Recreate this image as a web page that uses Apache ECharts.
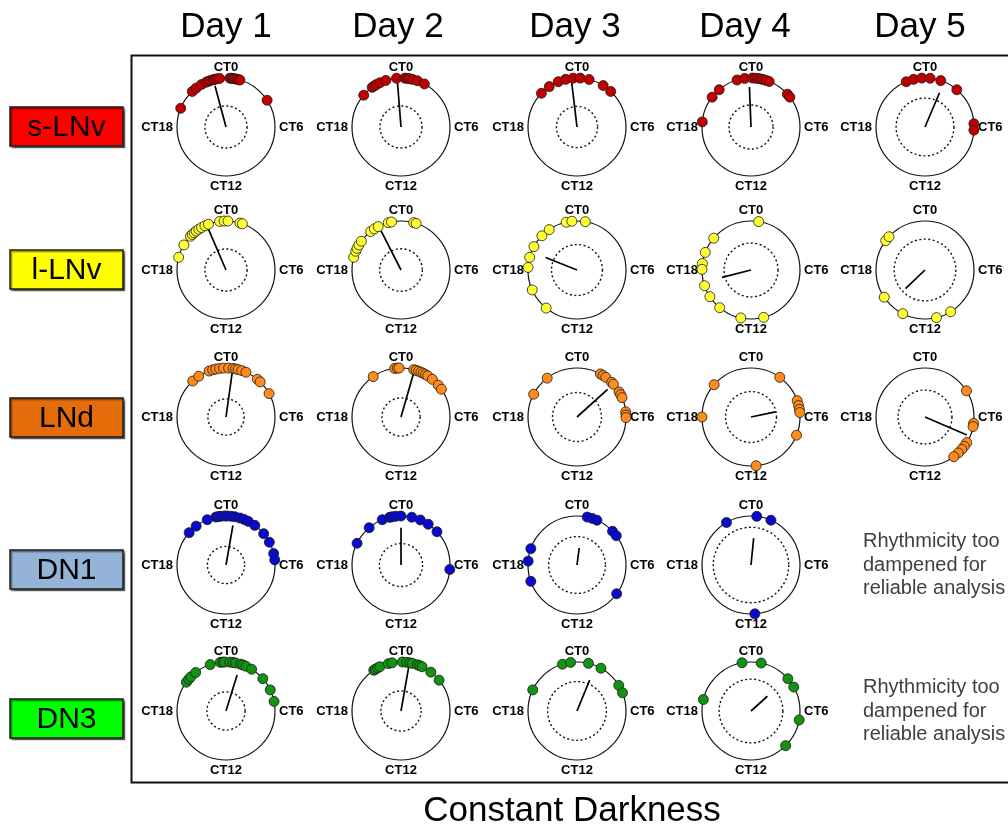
<!DOCTYPE html>
<html>
<head>
<meta charset="utf-8">
<script src="https://cdn.jsdelivr.net/npm/echarts@6/dist/echarts.min.js"></script>
<style>
html,body{margin:0;padding:0;background:#fff;}
#main{width:1008px;height:826px;}
</style>
</head>
<body>
<div id="main"></div>
<script>
const days = ['Day 1', 'Day 2', 'Day 3', 'Day 4', 'Day 5'];
const cellTypes = ['s-LNv', 'l-LNv', 'LNd', 'DN1', 'DN3'];
const noRhythmText = 'Rhythmicity too\ndampened for\nreliable analysis';

// peak phases (CT hours) of single flies, one list per day
const sLNvPhases = [
    [19.5, 21.1, 21.5, 22.0, 22.4, 22.6, 22.8, 23.0, 23.1, 23.3, 23.5, 0.3, 0.45, 0.55, 0.7, 0.85, 1.0, 1.1, 3.8],
    [20.7, 21.6, 21.8, 22.0, 22.3, 22.8, 23.65, 0.3, 0.5, 0.65, 0.9, 1.3, 1.9],
    [20.9, 21.7, 22.5, 23.1, 23.7, 0.25, 0.95, 2.15, 2.9],
    [18.4, 20.5, 21.3, 22.9, 23.5, 0.1, 0.35, 0.55, 0.75, 0.95, 1.2, 1.45, 3.2, 3.5],
    [22.5, 23.1, 23.75, 0.4, 1.25, 2.7, 5.75, 6.25]
];
const sLNvMean = [23.0, 23.7, 23.55, 23.85, 1.53];
const sLNvLength = [0.87, 0.95, 0.96, 0.82, 0.76];
const sLNvSignif = [0.43, 0.43, 0.42, 0.45, 0.59];

const lLNvPhases = [
    [19.0, 20.05, 20.9, 21.1, 21.3, 21.5, 21.75, 22.0, 22.3, 22.6, 23.5, 23.85, 0.15, 1.1, 1.3],
    [19.0, 19.5, 19.75, 20.05, 20.4, 21.45, 21.8, 22.15, 23.0, 23.25, 1.0, 1.2],
    [14.6, 16.4, 18.2, 19.0, 19.9, 20.95, 21.7, 23.15, 23.6, 0.65],
    [0.6, 20.7, 19.4, 18.5, 18.05, 16.75, 15.8, 14.65, 12.8, 11.0],
    [20.45, 20.85, 15.75, 13.8, 11.1, 9.9]
];
const lLNvMean = [22.45, 22.2, 19.45, 17.05, 15.1];
const lLNvLength = [0.93, 0.93, 0.69, 0.61, 0.55];
const lLNvSignif = [0.43, 0.435, 0.52, 0.55, 0.63];

const LNdPhases = [
    [21.15, 21.75, 22.65, 22.95, 23.2, 23.5, 23.8, 0.2, 0.55, 0.75, 0.95, 1.25, 1.6, 2.65, 2.95, 4.1],
    [21.7, 23.5, 23.7, 23.85, 1.0, 1.2, 1.4, 1.6, 1.8, 2.0, 2.2, 2.65, 3.3, 3.7],
    [19.85, 21.5, 1.9, 2.15, 2.4, 3.0, 3.2, 3.95, 4.2, 4.45, 5.6, 5.85, 6.05],
    [18.0, 20.75, 11.6, 2.4, 4.7, 5.1, 5.4, 5.65, 7.45],
    [3.85, 6.5, 6.75, 8.1, 8.45, 8.75, 9.15, 9.6]
];
const LNdMean = [0.53, 1.07, 3.2, 5.2, 7.55];
const LNdLength = [0.96, 0.97, 0.84, 0.51, 0.93];
const LNdSignif = [0.37, 0.39, 0.5, 0.52, 0.55];

const DN1Phases = [
    [20.75, 21.5, 22.5, 23.2, 23.4, 23.6, 23.9, 0.1, 0.4, 0.7, 1.1, 1.45, 1.8, 2.4, 3.35, 4.15, 5.1, 5.6],
    [19.75, 21.3, 22.5, 23.1, 23.3, 23.6, 0.0, 0.85, 1.55, 2.25, 3.15, 6.35],
    [19.3, 18.3, 16.7, 0.8, 1.2, 1.6, 3.1, 3.55, 8.4],
    [22.0, 0.45, 1.6, 11.7]
];
const DN1Mean = [0.66, 0.0, 0.5, 0.38];
const DN1Length = [0.82, 0.76, 0.35, 0.55];
const DN1Signif = [0.38, 0.44, 0.58, 0.77];

const DN3Phases = [
    [20.4, 20.7, 20.95, 21.45, 22.75, 23.55, 23.75, 23.9, 0.3, 0.55, 0.75, 1.15, 1.35, 1.6, 2.1, 3.25, 4.3, 5.25],
    [21.75, 21.9, 22.1, 22.3, 23.0, 23.3, 0.1, 0.45, 0.7, 0.9, 1.3, 1.5, 1.7, 2.5, 3.4],
    [19.7, 22.85, 23.5, 0.9, 1.95, 3.9, 4.55],
    [18.9, 23.3, 0.8, 3.25, 4.05, 6.7, 9.0]
];
const DN3Mean = [1.14, 0.66, 1.49, 3.2];
const DN3Length = [0.77, 0.89, 0.68, 0.45];
const DN3Signif = [0.39, 0.41, 0.6, 0.65];

const rows = [
    {phases: sLNvPhases, mean: sLNvMean, len: sLNvLength, sig: sLNvSignif, dot: '#c00000', box: '#ff0000'},
    {phases: lLNvPhases, mean: lLNvMean, len: lLNvLength, sig: lLNvSignif, dot: '#ffff33', box: '#ffff00'},
    {phases: LNdPhases, mean: LNdMean, len: LNdLength, sig: LNdSignif, dot: '#ff8c1a', box: '#e46c0a'},
    {phases: DN1Phases, mean: DN1Mean, len: DN1Length, sig: DN1Signif, dot: '#0a0acc', box: '#95b3d7'},
    {phases: DN3Phases, mean: DN3Mean, len: DN3Length, sig: DN3Signif, dot: '#129412', box: '#00ff00'}
];

const font = '"Liberation Sans", Arial, sans-serif';
const colX = [226, 401, 577, 751, 925];
const rowY = [127, 270, 417, 565, 711];
const boxY = [127, 270, 418, 570, 719];
const R = 49;

let polar = [], angleAxis = [], radiusAxis = [], series = [], graphic = [];

rows.forEach((row, r) => {
    row.phases.forEach((ph, d) => {
        let main = polar.length;
        polar.push({center: [colX[d], rowY[r]], radius: R});
        angleAxis.push({
            polarIndex: main, type: 'value', min: 0, max: 24, interval: 6,
            startAngle: 90, clockwise: true,
            axisLine: {lineStyle: {color: '#111', width: 1.2}},
            axisTick: {show: false},
            splitLine: {show: false},
            axisLabel: {
                margin: 4, color: '#000', fontWeight: 'bold', fontSize: 13, fontFamily: font,
                formatter: v => v === 24 ? '' : 'CT' + v
            }
        });
        radiusAxis.push({polarIndex: main, min: 0, max: 1, show: false});

        // dashed circle = significance threshold
        let inner = polar.length;
        polar.push({center: [colX[d], rowY[r]], radius: R * row.sig[d]});
        angleAxis.push({
            polarIndex: inner, type: 'value', min: 0, max: 24, startAngle: 90,
            axisLine: {lineStyle: {color: '#111', width: 1.4, type: [2, 2.5]}},
            axisTick: {show: false}, splitLine: {show: false}, axisLabel: {show: false}
        });
        radiusAxis.push({polarIndex: inner, min: 0, max: 1, show: false});

        series.push({
            type: 'line', coordinateSystem: 'polar', polarIndex: main,
            symbol: 'none', z: 4,
            lineStyle: {color: '#000', width: 1.7},
            data: [[0, row.mean[d]], [row.len[d], row.mean[d]]]
        });
        series.push({
            type: 'scatter', coordinateSystem: 'polar', polarIndex: main,
            symbolSize: 10, z: 5,
            itemStyle: {color: row.dot, borderColor: '#1a1a1a', borderWidth: 0.8, opacity: 1},
            data: ph.map(p => [1, p])
        });
    });

    graphic.push({
        type: 'rect', shape: {x: 10, y: boxY[r] - 20, width: 113, height: 39},
        style: {fill: row.box, stroke: '#1a1a1a', lineWidth: 1.5,
            shadowOffsetX: 1.5, shadowOffsetY: 1.5, shadowColor: 'rgba(0,0,0,0.45)', shadowBlur: 1}
    });
    graphic.push({
        type: 'text', x: 66.5, y: boxY[r] + 1,
        style: {text: cellTypes[r], fill: '#000', fontSize: 30, fontFamily: font,
            align: 'center', verticalAlign: 'middle'}
    });
});

days.forEach((d, i) => {
    graphic.push({
        type: 'text', x: [226, 398, 575, 745, 920][i], y: 27,
        style: {text: d, fill: '#000', fontSize: 35, fontFamily: font, align: 'center', verticalAlign: 'middle'}
    });
});

[565, 711].forEach(y => {
    graphic.push({
        type: 'text', x: 863, y: y,
        style: {text: noRhythmText, fill: '#3f3f3f', fontSize: 20, lineHeight: 23.5, fontFamily: font,
            align: 'left', verticalAlign: 'middle'}
    });
});

graphic.push({
    type: 'rect', shape: {x: 131.5, y: 55.5, width: 900, height: 727},
    style: {fill: 'none', stroke: '#111', lineWidth: 2}
});
graphic.push({
    type: 'text', x: 572, y: 811,
    style: {text: 'Constant Darkness', fill: '#000', fontSize: 35, fontFamily: font, align: 'center', verticalAlign: 'middle'}
});

let myChart = echarts.init(document.getElementById('main'));
myChart.setOption({
    backgroundColor: '#fff',
    animation: false,
    polar: polar,
    angleAxis: angleAxis,
    radiusAxis: radiusAxis,
    series: series,
    graphic: {elements: graphic}
});
</script>
</body>
</html>
